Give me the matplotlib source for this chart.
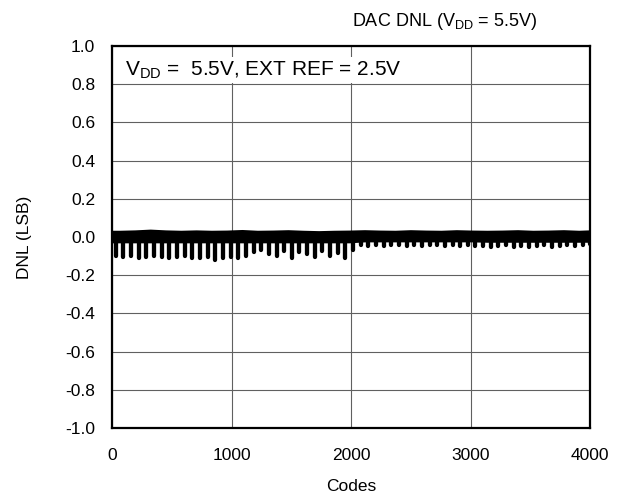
import numpy as np
import matplotlib
matplotlib.use("Agg")
import matplotlib.pyplot as plt

plt.rcParams['font.family'] = ['Liberation Sans', 'DejaVu Sans']
plt.rcParams['mathtext.fontset'] = 'custom'
plt.rcParams['mathtext.rm'] = 'Liberation Sans'

# DNL trace, summarised per 64-code segment: the transition dip at the
# middle of each segment (LSB)
dip_codes = [32 + 64 * k for k in range(64)]
dip_dnl = [
    -0.100, -0.105, -0.100, -0.110, -0.105, -0.100, -0.105, -0.110,
    -0.105, -0.100, -0.110, -0.110, -0.105, -0.120, -0.110, -0.105,
    -0.110, -0.100, -0.080, -0.070, -0.090, -0.100, -0.075, -0.110,
    -0.080, -0.090, -0.105, -0.075, -0.100, -0.085, -0.110, -0.070,
    -0.040, -0.045, -0.040, -0.045, -0.040, -0.040, -0.045, -0.040,
    -0.045, -0.040, -0.040, -0.045, -0.040, -0.045, -0.040, -0.045,
    -0.045, -0.050, -0.045, -0.040, -0.050, -0.045, -0.050, -0.045,
    -0.040, -0.050, -0.045, -0.040, -0.045, -0.040, -0.035, -0.040,
]

# noise band around zero, upper and lower edge every 128 codes (LSB)
band_codes = [64 + 128 * k for k in range(32)]
band_hi = [
    0.030, 0.032, 0.036, 0.032, 0.030, 0.032, 0.030, 0.031,
    0.034, 0.030, 0.031, 0.033, 0.030, 0.028, 0.030, 0.031,
    0.033, 0.031, 0.030, 0.033, 0.031, 0.030, 0.033, 0.031,
    0.030, 0.031, 0.033, 0.030, 0.031, 0.033, 0.030, 0.033,
]
band_lo = [
    -0.025, -0.025, -0.025, -0.025, -0.025, -0.025, -0.025, -0.025,
    -0.025, -0.025, -0.025, -0.025, -0.025, -0.025, -0.025, -0.025,
    -0.020, -0.020, -0.020, -0.020, -0.020, -0.020, -0.020, -0.020,
    -0.022, -0.022, -0.022, -0.022, -0.022, -0.022, -0.022, -0.022,
]

fig = plt.figure(figsize=(6.22, 4.99), dpi=100)
ax = fig.add_axes([0.180, 0.142, 0.769, 0.766])

# band of the trace
bx = [0] + band_codes + [4095]
bh = [band_hi[0]] + band_hi + [band_hi[-1]]
bl = [band_lo[0]] + band_lo + [band_lo[-1]]
ax.fill_between(bx, bl, bh, color='black', linewidth=1.5, edgecolor='black', zorder=3)

# dips below the band
ax.vlines(dip_codes, np.zeros(len(dip_codes)), dip_dnl, color='black',
          linewidth=3.1, capstyle='round', zorder=3)

ax.set_xlim(0, 4000)
ax.set_ylim(-1.0, 1.0)
yt = [-1.0, -0.8, -0.6, -0.4, -0.2, 0.0, 0.2, 0.4, 0.6, 0.8, 1.0]
ax.set_xticks([0, 1000, 2000, 3000, 4000])
ax.set_yticks(yt)
ax.set_yticklabels(['%.1f' % v for v in yt])
ax.tick_params(length=0, labelsize=12.5, pad=14)
ax.tick_params(axis='y', pad=12)
ax.grid(True, color='#606060', linewidth=0.8)
ax.set_axisbelow(True)
for s in ax.spines.values():
    s.set_linewidth(1.6)
    s.set_color('black')

ax.set_xlabel('Codes', fontsize=12.5, labelpad=12)
ax.set_ylabel('DNL (LSB)', fontsize=12.5, labelpad=24)

ax.text(0.028, 0.965, r'V$_{\mathregular{DD}}$ =  5.5V, EXT REF = 2.5V',
        transform=ax.transAxes, fontsize=15, va='top', ha='left', zorder=5,
        bbox=dict(facecolor='white', edgecolor='none', pad=1.5))

fig.text(0.715, 0.978, r'DAC DNL (V$_{\mathregular{DD}}$ = 5.5V)',
         fontsize=13, ha='center', va='top')

fig.savefig('out.png', dpi=100)
